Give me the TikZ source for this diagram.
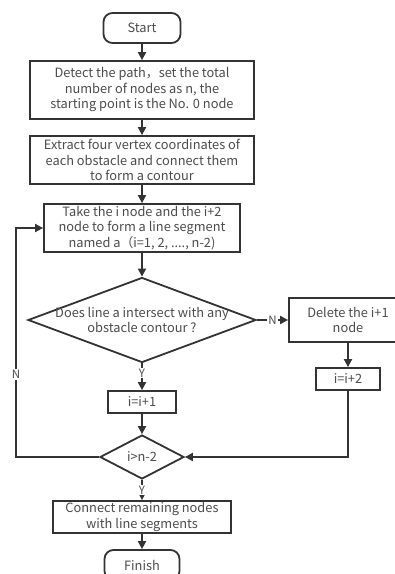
\documentclass[tikz,border=0pt]{standalone}
\usepackage{fontspec}
\setmainfont{Noto Sans CJK SC}
\usetikzlibrary{shapes.geometric, arrows.meta}
\tikzset{process/.style={draw=black!80, line width=1.8pt, fill=white, align=center, inner sep=0pt, font=\fontsize{12.8}{15.5}\selectfont, text=black!70}}
\tikzset{terminal/.style={process, rounded corners=9pt}}
\tikzset{decision/.style={draw=black!80, line width=1.8pt, fill=white, diamond, inner sep=0pt, label={[font=\fontsize{12.8}{15.5}\selectfont, text=black!70, align=center]center:#1}}}
\tikzset{flow/.style={draw=black!80, line width=1.8pt, -{Triangle[length=8pt, width=8pt]}}}
\tikzset{branch/.style={fill=white, inner sep=1pt, font=\fontsize{11.5}{13}\selectfont, text=black!70}}

\begin{document}
\begin{tikzpicture}[x=1pt, y=-1pt]
    \clip (0, 0) rectangle (395, 574);
    \useasboundingbox (0, 0) rectangle (395, 574);
    \node[terminal, minimum width=77pt, minimum height=30pt] (start) at (142, 28) {Start};
    \node[process, minimum width=224pt, minimum height=58pt] (detect) at (142, 90) {Detect the path，set the total\\number of nodes as n, the\\starting point is the No. 0 node};
    \node[process, minimum width=224pt, minimum height=48pt] (extract) at (142, 160) {Extract four vertex coordinates of\\each obstacle and connect them\\to form a contour};
    \node[process, minimum width=196pt, minimum height=48pt] (take) at (142, 228) {Take the i node and the i+2\\node to form a line segment\\named a（i=1, 2, ...., n-2)};
    \node[decision={Does line a intersect with any\\obstacle contour ?}, minimum width=228pt, minimum height=85pt] (check) at (142, 320) {};
    \node[process, minimum width=118pt, minimum height=44pt] (delete) at (348, 320) {Delete the i+1\\node};
    \node[process, minimum width=64pt, minimum height=22pt] (inctwo) at (348, 379) {i=i+2};
    \node[process, minimum width=68pt, minimum height=22pt] (incone) at (142, 402) {i=i+1};
    \node[decision={i>n-2}, minimum width=84pt, minimum height=44pt] (last) at (142, 457) {};
    \node[process, minimum width=178pt, minimum height=32pt] (connect) at (142, 517) {Connect remaining nodes\\with line segments};
    \node[terminal, minimum width=75pt, minimum height=30pt] (finish) at (142, 565) {Finish};
    \coordinate (loop) at (16, 228);

    \draw[flow] (start) -- (detect);
    \draw[flow] (detect) -- (extract);
    \draw[flow] (extract) -- (take);
    \draw[flow] (take) -- (check);
    \draw[flow] (check) -- node[branch] {N} (delete);
    \draw[flow] (check) -- node[branch, pos=0.36] {Y} (incone);
    \draw[flow] (delete) -- (inctwo);
    \draw[flow] (incone) -- (last);
    \draw[flow] (inctwo) |- (last);
    \draw[flow] (last.west) -| node[branch, pos=0.68] {N} (loop) -- (take);
    \draw[flow] (last) -- node[branch] {Y} (connect);
    \draw[flow] (connect) -- (finish);
\end{tikzpicture}
\end{document}
